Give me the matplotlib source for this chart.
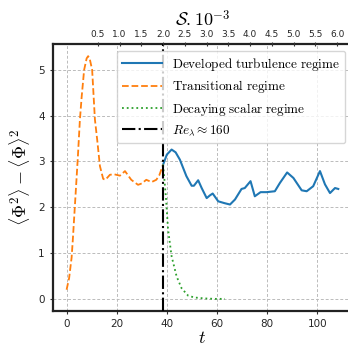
import matplotlib
matplotlib.use("Agg")
import matplotlib.pyplot as plt
import numpy as np

plt.rcParams['mathtext.fontset'] = 'cm'

# Transitional regime (orange dashed)
t_trans = [0, 1, 2, 2.5, 3.5, 4.5, 5.3, 6, 7, 8, 8.6, 9.2, 10.2, 11.3, 12.2, 13.3, 14.6,
           15.5, 17.3, 19, 21.3, 23.3, 25.8, 28.5, 30, 31.8, 33.9, 35.8, 37, 38.5]
v_trans = [0.2, 0.45, 0.9, 1.3, 2.2, 3.1, 3.9, 4.4, 5.0, 5.25, 5.3, 5.25, 5.0, 3.92, 3.48, 2.9, 2.62,
           2.6, 2.71, 2.72, 2.69, 2.79, 2.6, 2.49, 2.52, 2.6, 2.55, 2.6, 2.7, 2.93]

# Developed turbulence regime (blue solid)
t_dev = [38.5, 40, 41.9, 43.5, 45.2, 47.8, 49.9, 50.8, 52.5, 53.9, 55.9, 57.2, 58.3, 60.5, 63,
         65.2, 67.2, 69.8, 71.1, 73.4, 75.1, 77.4, 79.8, 83.1, 85.1, 88.0, 90.5, 93.8, 95.8,
         98.4, 101.1, 103.1, 105.1, 107.1, 108.4]
v_dev = [2.93, 3.15, 3.26, 3.2, 3.04, 2.68, 2.47, 2.47, 2.59, 2.42, 2.2, 2.26, 2.3, 2.13, 2.09,
         2.06, 2.17, 2.4, 2.42, 2.57, 2.24, 2.33, 2.33, 2.35, 2.53, 2.76, 2.64, 2.37, 2.35,
         2.46, 2.79, 2.5, 2.31, 2.42, 2.4]

# Decaying scalar regime (green dotted)
t_dec = [38.5, 39.6, 40.5, 41.9, 43.9, 45.9, 48.5, 51, 55, 59, 63.2]
v_dec = [2.93, 2.24, 1.51, 0.93, 0.49, 0.23, 0.07, 0.03, 0.01, 0.0, 0.0]

t_re = 38.5

# Top axis: S.10^-3 tick values and their t positions
s_ticks = [0.5, 1.0, 1.5, 2.0, 2.5, 3.0, 3.5, 4.0, 4.5, 5.0, 5.5, 6.0]
s_ref_t = 38.5
s_ref = 2.0
t_per_s = 17.36

fig = plt.figure(figsize=(3.48, 3.46), dpi=100)
ax = fig.add_axes([53/348, 35/346, 298.8/348, 267/346])

ax.plot(t_dev, v_dev, color='#1f77b4', lw=1.5, label=r'$\mathrm{Developed\ turbulence\ regime}$', zorder=3)
ax.plot(t_trans, v_trans, color='#ff7f0e', lw=1.3, ls='--', label=r'$\mathrm{Transitional\ regime}$', zorder=3)
ax.plot(t_dec, v_dec, color='#2ca02c', lw=1.3, ls=':', label=r'$\mathrm{Decaying\ scalar\ regime}$', zorder=3)
ax.axvline(t_re, color='black', lw=1.5, ls='-.', label=r'$Re_\lambda \approx 160$', zorder=4)

ax.set_xlim(-5.42, 113.8)
ax.set_ylim(-0.265, 5.565)
ax.set_xticks([0, 20, 40, 60, 80, 100])
ax.set_yticks([0, 1, 2, 3, 4, 5])
ax.grid(True, color='#bbbbbb', ls=(0, (3, 2)), lw=0.7)
ax.set_axisbelow(True)
ax.tick_params(labelsize=7.5, length=2.5, width=0.8, colors='#333333', labelcolor='#262626')
for sp in ['left', 'bottom', 'top']:
    ax.spines[sp].set_linewidth(1.6)
    ax.spines[sp].set_color('#222222')
ax.spines['right'].set_visible(False)

ax.set_xlabel(r'$t$', fontsize=13, labelpad=0)
ax.set_ylabel(r'$\langle\Phi^2\rangle - \langle\Phi\rangle^2$', fontsize=13, labelpad=4)

ax2 = ax.twiny()
ax2.set_xlim(ax.get_xlim())
ax2.set_xticks([s_ref_t + (s - s_ref) * t_per_s for s in s_ticks])
ax2.set_xticklabels(['%.1f' % s for s in s_ticks])
ax2.tick_params(labelsize=6.5, length=3, width=0.8, direction='inout', pad=2, colors='#333333', labelcolor='#262626')
for sp in ax2.spines.values():
    sp.set_visible(False)
ax2.set_xlabel(r'$\mathcal{S}.10^{-3}$', fontsize=13, labelpad=3)

leg = ax.legend(loc='upper right', fontsize=9.5, framealpha=0.8, handlelength=3.0,
                borderaxespad=0.5, labelspacing=0.42)
leg.get_frame().set_edgecolor('#cccccc')

fig.savefig('out.png', dpi=100)
